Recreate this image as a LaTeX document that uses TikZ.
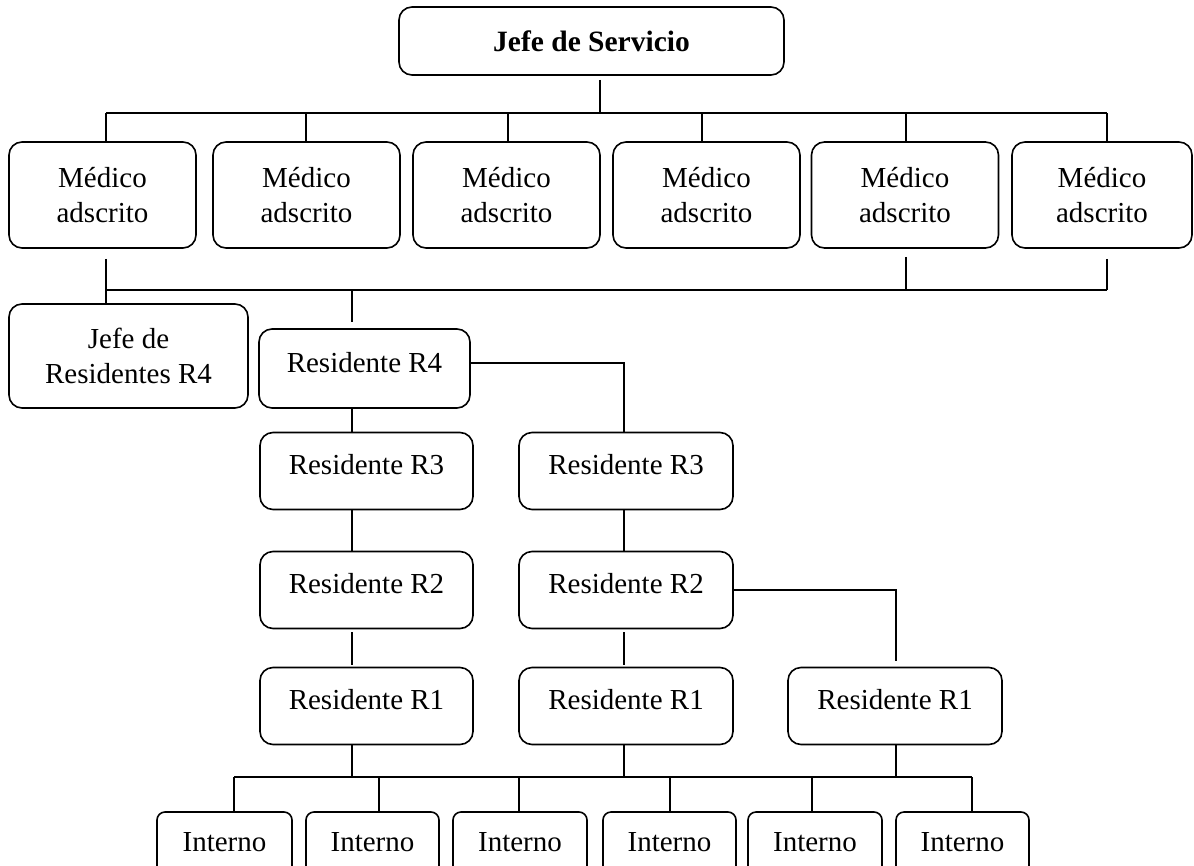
\documentclass[tikz,border=0pt]{standalone}
\usepackage{fontspec}
\setmainfont{Liberation Serif}
\usetikzlibrary{calc}
\begin{document}
\begin{tikzpicture}[x=1pt,y=-1pt,
  box/.style={draw,line width=1.6pt,rounded corners=13pt,inner sep=0pt,
    font=\fontsize{29}{35}\selectfont,align=center},
  medbox/.style={box,minimum width=187pt,minimum height=106pt},
  resbox/.style={box,minimum width=213pt,minimum height=77pt,text height=20pt,text depth=13pt},
  intbox/.style={box,rounded corners=8pt,minimum width=134pt,minimum height=68pt,text height=20pt,text depth=9pt},
  conn/.style={line width=1.7pt}]
\useasboundingbox (0,0) rectangle (1194,865);
\clip (0,0) rectangle (1194,865);
% top
\node[box,minimum width=385pt,minimum height=68pt,font=\fontsize{29.5}{35}\selectfont\bfseries] (js) at (591.5,41) {Jefe de Servicio};
% medicos
\node[medbox] (m1) at (102.5,195) {Médico\\adscrito};
\node[medbox] (m2) at (306.5,195) {Médico\\adscrito};
\node[medbox] (m3) at (506.5,195) {Médico\\adscrito};
\node[medbox] (m4) at (706.5,195) {Médico\\adscrito};
\node[medbox] (m5) at (905,195) {Médico\\adscrito};
\node[medbox,minimum width=180pt] (m6) at (1102,195) {Médico\\adscrito};
% residents
\node[box,minimum width=239pt,minimum height=104pt] (jr) at (128.5,356) {Jefe de\\Residentes R4};
\node[resbox,minimum width=211pt,minimum height=79pt] (r4) at (364.5,368.5) {Residente R4};
\node[resbox] (r3a) at (366.5,471) {Residente R3};
\node[resbox] (r2a) at (366.5,590) {Residente R2};
\node[resbox] (r1a) at (366.5,706) {Residente R1};
\node[resbox,minimum width=214pt] (r3b) at (626,471) {Residente R3};
\node[resbox,minimum width=214pt] (r2b) at (626,590) {Residente R2};
\node[resbox,minimum width=214pt] (r1b) at (626,706) {Residente R1};
\node[resbox,minimum width=214pt] (r1c) at (895,706) {Residente R1};
% internos
\node[intbox,minimum width=135pt] (i1) at (224.5,846) {Interno};
\node[intbox,minimum width=133pt] (i2) at (372.5,846) {Interno};
\node[intbox] (i3) at (520,846) {Interno};
\node[intbox,minimum width=133pt] (i4) at (669.5,846) {Interno};
\node[intbox] (i5) at (815,846) {Interno};
\node[intbox,minimum width=133pt] (i6) at (962.5,846) {Interno};
% coordinates
\coordinate (b0) at (600,113);
\coordinate (tl) at (106,113);
\coordinate (tr) at (1107,113);
\coordinate (t2) at (306,113);
\coordinate (t3) at (508,113);
\coordinate (t4) at (702,113);
\coordinate (t5) at (906,113);
\coordinate (ll) at (106,290);
\coordinate (lr) at (1107,290);
\coordinate (l5) at (906,290);
\coordinate (lc) at (352,290);
\coordinate (ca) at (352,0);
\coordinate (cb) at (624,0);
\coordinate (cc) at (896,0);
\coordinate (bl) at (234,777);
\coordinate (br) at (972,777);
\coordinate (u2) at (379,777);
\coordinate (u3) at (519,777);
\coordinate (u4) at (670,777);
\coordinate (u5) at (812,777);
% top bus
\draw[conn] ([yshift=-4pt]b0 |- js.south) -- (b0);
\draw[conn] (tl) -- (tr);
\draw[conn] (tl) -- (tl |- m1.north);
\draw[conn] (t2) -- (t2 |- m2.north);
\draw[conn] (t3) -- (t3 |- m3.north);
\draw[conn] (t4) -- (t4 |- m4.north);
\draw[conn] (t5) -- (t5 |- m5.north);
\draw[conn] (tr) -- (tr |- m6.north);
% lower bus
\draw[conn] ([yshift=-10pt]m1.south -| ll) -- (ll);
\draw[conn] ([yshift=-8pt]m5.south -| l5) -- (l5);
\draw[conn] ([yshift=-10pt]m6.south -| lr) -- (lr);
\draw[conn] (ll) -- (lr);
\draw[conn] (ll) -- (ll |- jr.north);
\draw[conn] (lc) -- ([yshift=6pt]lc |- r4.north);
% resident chains
\draw[conn] (ca |- r4.south) -- (ca |- r3a.north);
\draw[conn] (ca |- r3a.south) -- (ca |- r2a.north);
\draw[conn] ([yshift=-3pt]ca |- r2a.south) -- ([yshift=2pt]ca |- r1a.north);
\draw[conn] ([yshift=5.5pt]r4.east) -| (cb |- r3b.north);
\draw[conn] (cb |- r3b.south) -- (cb |- r2b.north);
\draw[conn] ([yshift=-3pt]cb |- r2b.south) -- ([yshift=2pt]cb |- r1b.north);
\draw[conn] (r2b.east) -| ([yshift=6pt]cc |- r1c.north);
% bottom bus
\draw[conn] (ca |- r1a.south) -- (ca |- bl);
\draw[conn] (cb |- r1b.south) -- (cb |- bl);
\draw[conn] (cc |- r1c.south) -- (cc |- bl);
\draw[conn] (bl) -- (br);
\draw[conn] (bl) -- (bl |- i1.north);
\draw[conn] (u2) -- (u2 |- i2.north);
\draw[conn] (u3) -- (u3 |- i3.north);
\draw[conn] (u4) -- (u4 |- i4.north);
\draw[conn] (u5) -- (u5 |- i5.north);
\draw[conn] (br) -- (br |- i6.north);
\end{tikzpicture}
\end{document}
